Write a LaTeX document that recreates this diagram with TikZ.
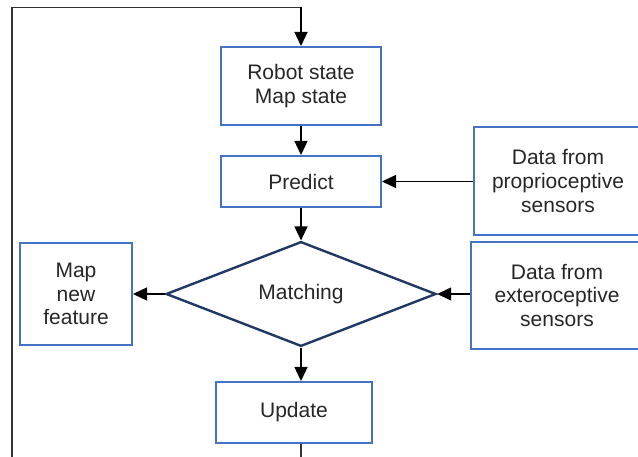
\documentclass[tikz,border=0pt]{standalone}
\usepackage{fontspec}
\setmainfont{Liberation Sans}
\usetikzlibrary{arrows.meta,shapes.geometric}
\definecolor{boxblue}{HTML}{4472C4}
\definecolor{navyline}{HTML}{1F3864}
\definecolor{txt}{HTML}{262626}
\begin{document}
\begin{tikzpicture}[x=1pt,y=-1pt,
  stepbox/.style={draw=boxblue,line width=2pt,rectangle,inner sep=0pt,align=center,text=txt,font=\fontsize{21}{23.6}\selectfont},
  decbox/.style={draw=navyline,line width=2.4pt,diamond,inner sep=0pt,text=txt,font=\fontsize{21}{23.6}\selectfont},
  conn/.style={draw=black,line width=1.3pt,-{Triangle[length=14pt,width=13pt]}},
  plain/.style={draw=black!80,line width=1.3pt}]
\useasboundingbox (0,0) rectangle (638,457);
\node[stepbox,minimum width=160pt,minimum height=78pt] (robot) at (301,86) {Robot state\\Map state};
\node[stepbox,minimum width=160pt,minimum height=51pt] (predict) at (301,181.5) {Predict};
\node[decbox,minimum width=270pt,minimum height=102pt] (match) at (301,294) {Matching};
\node[stepbox,minimum width=112pt,minimum height=102pt] (mapnew) at (76,294) {Map\\new\\feature};
\node[stepbox,minimum width=168pt,minimum height=108pt] (proprio) at (558,181) {Data from\\proprioceptive\\sensors};
\node[stepbox,minimum width=172pt,minimum height=107pt] (extero) at (557,295.5) {Data from\\exteroceptive\\sensors};
\node[stepbox,minimum width=156pt,minimum height=61pt] (update) at (294,412.5) {Update};
\coordinate (lb) at (12,460);
\coordinate (lt) at (12,7.5);
\coordinate (rt) at (301,7.5);
\coordinate (ub) at (301,460);
\draw[conn] (robot.south) -- (predict.north);
\draw[conn] (predict.south) -- (match.north);
\draw[conn] (proprio.west |- predict.east) -- (predict.east);
\draw[conn] (extero.west |- match.east) -- (match.east);
\draw[conn] (match.west) -- (mapnew.east);
\draw[conn] (match.south) -- (match.south |- update.north);
\draw[plain] (match.south |- update.south) -- (ub);
\draw[plain] (lb) -- (lt) -- (rt);
\draw[conn] (rt) -- (robot.north);
\end{tikzpicture}
\end{document}
